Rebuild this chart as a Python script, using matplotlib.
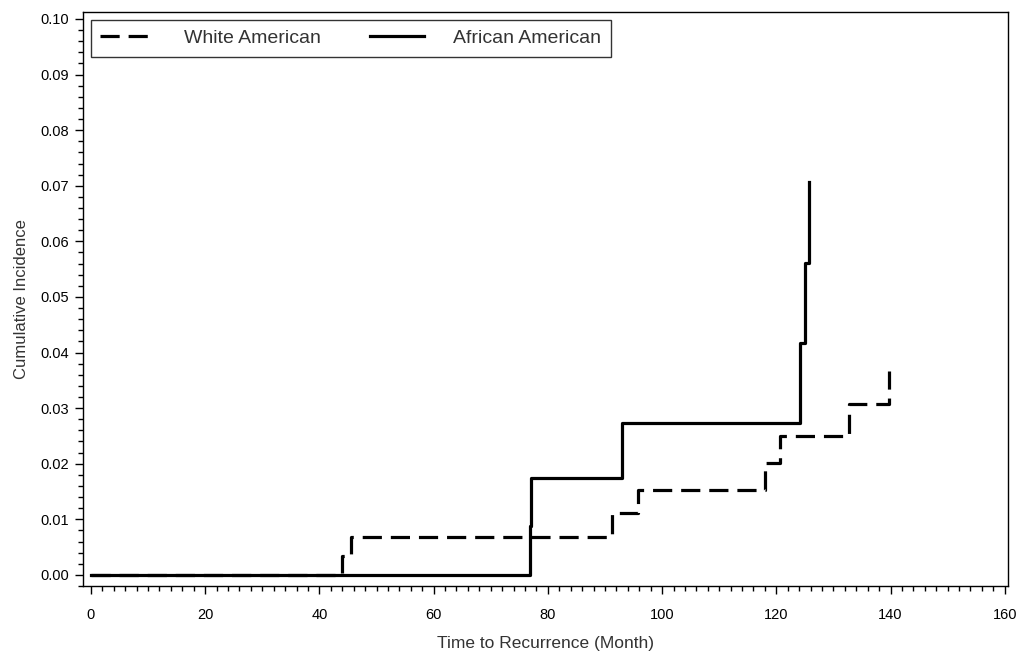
import matplotlib.pyplot as plt
from matplotlib.ticker import MultipleLocator, FormatStrFormatter

plt.rcParams['font.family'] = ['Liberation Sans', 'DejaVu Sans']

# cumulative incidence
white_t = [0, 44.0, 45.5, 91.3, 95.8, 118.1, 120.6, 132.7, 139.8]
white_ci = [0, 0.0034, 0.0068, 0.0111, 0.0153, 0.0201, 0.0250, 0.0307, 0.0367]
black_t = [0, 76.8, 77.0, 92.9, 124.1, 125.0, 125.8]
black_ci = [0, 0.0088, 0.0175, 0.0273, 0.0417, 0.0561, 0.0706]

x_ticks = [0, 20, 40, 60, 80, 100, 120, 140, 160]

fig = plt.figure(figsize=(10.24, 6.54), dpi=100)
ax = fig.add_axes([0.081, 0.104, 0.903, 0.878])

ax.step(white_t, white_ci, where='post', color='black', lw=2.3,
        linestyle=(0, (6, 2.8)), label='White American')
ax.step(black_t, black_ci, where='post', color='black', lw=2.3,
        label='African American')

ax.set_xlim(-1.4, 160.5)
ax.set_ylim(-0.002, 0.1013)
ax.set_xticks(x_ticks)
ax.xaxis.set_minor_locator(MultipleLocator(2))
ax.yaxis.set_major_locator(MultipleLocator(0.01))
ax.yaxis.set_minor_locator(MultipleLocator(0.002))
ax.yaxis.set_major_formatter(FormatStrFormatter('%.2f'))
ax.tick_params(which='major', direction='out', length=6, width=1, labelsize=10.5, pad=10)
ax.tick_params(which='minor', direction='out', length=3.5, width=1)
ax.tick_params(axis='y', pad=4)

ax.set_xlabel('Time to Recurrence (Month)', fontsize=12.5, labelpad=10, color='#333333')
ax.set_ylabel('Cumulative Incidence', fontsize=12, labelpad=8, color='#333333')
for s in ax.spines.values():
    s.set_linewidth(1)

leg = ax.legend(loc='upper left', ncol=2, fontsize=14, frameon=True, fancybox=False,
                edgecolor='black', handlelength=2.8, columnspacing=2.5,
                handletextpad=1.5, borderaxespad=0.4, borderpad=0.5,
                labelcolor='#333333')
leg.get_frame().set_linewidth(1)

fig.savefig('out.png', dpi=100)
